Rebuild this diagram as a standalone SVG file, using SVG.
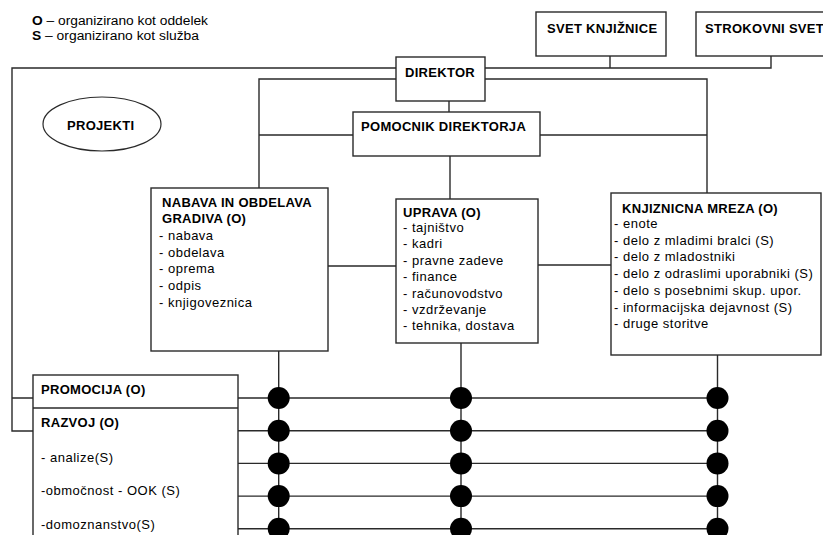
<svg xmlns="http://www.w3.org/2000/svg" width="823" height="535" viewBox="0 0 823 535">
<style>
.box{fill:#fff;stroke:#2a2a2a;stroke-width:1.4}
.ln{fill:none;stroke:#2a2a2a;stroke-width:1.4}
.dot{fill:#000}
.h{font-family:"Liberation Sans",Arial,sans-serif;font-weight:bold;font-size:13px;letter-spacing:0.3px;fill:#000}
.t{font-family:"Liberation Sans",Arial,sans-serif;font-size:13px;letter-spacing:0.5px;fill:#000}
.lg{font-family:"Liberation Sans",Arial,sans-serif;font-size:12.5px;fill:#000}
</style>
<rect width="823" height="535" fill="#fff"/>
<g id="legend">
<text class="lg" x="32" y="25" textLength="176" lengthAdjust="spacingAndGlyphs"><tspan font-weight="bold">O</tspan> – organizirano kot oddelek</text>
<text class="lg" x="32" y="40" textLength="167" lengthAdjust="spacingAndGlyphs"><tspan font-weight="bold">S</tspan> – organizirano kot služba</text>
</g>
<g id="connectors">
<path class="ln" d="M396,68 H12 V431 H33 M12,398 H33"/>
<path class="ln" d="M485,68 H771 V56 M610,68 V56"/>
<path class="ln" d="M449,101 V112"/>
<path class="ln" d="M396,79 H259 V188 M485,79 H707 V193"/>
<path class="ln" d="M353,135 H259 M540,135 H707"/>
<path class="ln" d="M450,156 V199"/>
<path class="ln" d="M328,266 H396 M538,265 H611"/>
<path class="ln" d="M278.7,351 V535 M461,343 V535 M717.5,355 V535"/>
<path class="ln" d="M238,398 H717.5 M238,430.7 H717.5 M238,463.4 H717.5 M238,496.1 H717.5 M238,528.8 H717.5"/>
<g id="junctions">
<circle class="dot" cx="278.7" cy="398" r="11"/><circle class="dot" cx="461" cy="398" r="11"/><circle class="dot" cx="717.5" cy="398" r="11"/>
<circle class="dot" cx="278.7" cy="430.7" r="11"/><circle class="dot" cx="461" cy="430.7" r="11"/><circle class="dot" cx="717.5" cy="430.7" r="11"/>
<circle class="dot" cx="278.7" cy="463.4" r="11"/><circle class="dot" cx="461" cy="463.4" r="11"/><circle class="dot" cx="717.5" cy="463.4" r="11"/>
<circle class="dot" cx="278.7" cy="496.1" r="11"/><circle class="dot" cx="461" cy="496.1" r="11"/><circle class="dot" cx="717.5" cy="496.1" r="11"/>
<circle class="dot" cx="278.7" cy="528.8" r="11"/><circle class="dot" cx="461" cy="528.8" r="11"/><circle class="dot" cx="717.5" cy="528.8" r="11"/>
</g>
</g>
<g id="svet-knjiznice">
<rect class="box" x="536" y="12" width="130" height="44"/>
<text class="h" x="547" y="33">SVET KNJIŽNICE</text>
</g>
<g id="strokovni-svet">
<rect class="box" x="696" y="12" width="140" height="44"/>
<text class="h" x="705" y="33">STROKOVNI SVET</text>
</g>
<g id="direktor">
<rect class="box" x="396" y="57" width="89" height="44"/>
<text class="h" x="405" y="77">DIREKTOR</text>
</g>
<g id="pomocnik">
<rect class="box" x="353" y="112" width="187" height="44"/>
<text class="h" x="361" y="131">POMOCNIK DIREKTORJA</text>
</g>
<g id="projekti">
<ellipse cx="102" cy="124" rx="59" ry="27" fill="#fff" stroke="#2a2a2a" stroke-width="1.2"/>
<text class="h" x="67" y="130">PROJEKTI</text>
</g>
<g id="nabava">
<rect class="box" x="151" y="188" width="177" height="163"/>
<text class="h" x="162" y="207">NABAVA IN OBDELAVA</text>
<text class="h" x="162" y="223">GRADIVA (O)</text>
<text class="t" x="159" y="240">- nabava</text>
<text class="t" x="159" y="256.7">- obdelava</text>
<text class="t" x="159" y="273.3">- oprema</text>
<text class="t" x="159" y="290">- odpis</text>
<text class="t" x="159" y="306.7">- knjigoveznica</text>
</g>
<g id="uprava">
<rect class="box" x="396" y="199" width="142" height="144"/>
<text class="h" x="403" y="217">UPRAVA (O)</text>
<text class="t" x="403" y="232">- tajništvo</text>
<text class="t" x="403" y="248.4">- kadri</text>
<text class="t" x="403" y="264.8">- pravne zadeve</text>
<text class="t" x="403" y="281.2">- finance</text>
<text class="t" x="403" y="297.6">- računovodstvo</text>
<text class="t" x="403" y="314">- vzdrževanje</text>
<text class="t" x="403" y="330.4">- tehnika, dostava</text>
</g>
<g id="knjiznicna-mreza">
<rect class="box" x="611" y="193" width="210" height="162"/>
<text class="h" x="622" y="213">KNJIZNICNA MREZA (O)</text>
<text class="t" x="614" y="228">- enote</text>
<text class="t" x="614" y="244.7">- delo z mladimi bralci (S)</text>
<text class="t" x="614" y="261.4">- delo z mladostniki</text>
<text class="t" x="614" y="278.1">- delo z odraslimi uporabniki (S)</text>
<text class="t" x="614" y="294.8">- delo s posebnimi skup. upor.</text>
<text class="t" x="614" y="311.5">- informacijska dejavnost (S)</text>
<text class="t" x="614" y="328.2">- druge storitve</text>
</g>
<g id="promocija-razvoj">
<rect class="box" x="33" y="375" width="205" height="175"/>
<path class="ln" d="M33,408 H238"/>
<text class="h" x="41" y="394">PROMOCIJA (O)</text>
<text class="h" x="41" y="427">RAZVOJ (O)</text>
<text class="t" x="41" y="461.5">- analize(S)</text>
<text class="t" x="41" y="494.5">-območnost - OOK (S)</text>
<text class="t" x="41" y="528.5">-domoznanstvo(S)</text>
</g>
</svg>
